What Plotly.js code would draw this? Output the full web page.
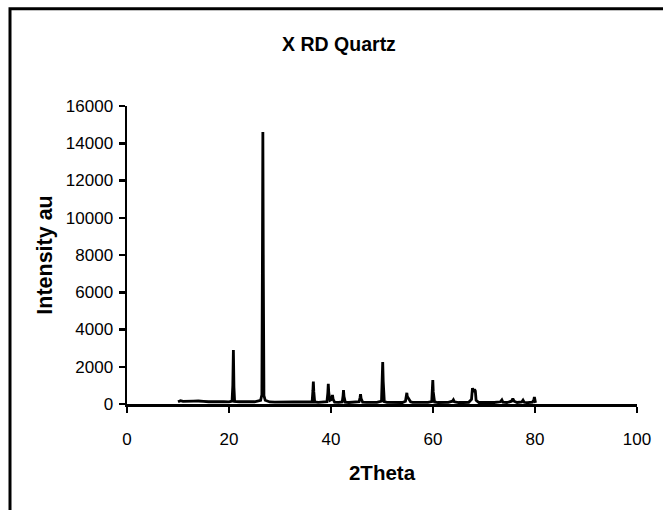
<!DOCTYPE html>
<html>
<head>
<meta charset="utf-8">
<script src="https://cdn.plot.ly/plotly-3.0.1.min.js"></script>
<style>
html,body{margin:0;padding:0;background:#fff;}
#chart{width:663px;height:510px;}
</style>
</head>
<body>
<div id="chart"></div>
<script>
const chartTitle = "X RD Quartz";
const xTitle = "2Theta";
const yTitle = "Intensity au";
const xTicks = [0, 20, 40, 60, 80, 100];
const yTicks = [0, 2000, 4000, 6000, 8000, 10000, 12000, 14000, 16000];

const twoTheta = [
  10.0, 10.5, 11.0, 12.0, 13.0, 14.0, 14.5, 15.0, 16.0, 17.0, 18.0, 19.0, 20.0,
  20.6, 20.75, 20.86, 20.97, 21.1, 22.0, 23.0, 24.0, 25.0,
  26.2, 26.45, 26.55, 26.64, 26.73, 26.85, 27.1, 28.0, 29.0, 30.0, 31.0, 32.0, 33.0, 34.0, 35.0,
  36.3, 36.45, 36.54, 36.63, 36.8, 37.5, 38.0,
  39.2, 39.38, 39.47, 39.56, 39.8, 40.15, 40.29, 40.42, 40.7, 41.5,
  42.2, 42.37, 42.45, 42.55, 42.8, 43.5, 44.5,
  45.5, 45.7, 45.79, 45.9, 46.2, 47.0, 48.0, 49.0,
  49.9, 50.05, 50.14, 50.24, 50.45, 51.0, 52.0, 53.0, 54.0,
  54.6, 54.78, 54.87, 54.96, 55.3, 55.6, 56.0, 57.0, 58.0, 59.0,
  59.75, 59.88, 59.96, 60.05, 60.3, 61.0, 62.0, 63.0,
  63.8, 64.0, 64.2, 65.0, 66.0, 67.0,
  67.55, 67.74, 67.9, 68.14, 68.3, 68.45, 69.0, 70.0, 71.0, 72.0,
  73.2, 73.5, 73.7, 74.5, 75.4, 75.65, 75.9, 76.5, 77.4, 77.65, 77.9, 78.5,
  79.5, 79.8, 79.88, 80.0, 80.1
];
const intensity = [
  120, 180, 140, 130, 150, 160, 130, 140, 120, 130, 110, 120, 110,
  150, 1000, 2900, 900, 140, 120, 110, 110, 120,
  200, 500, 7500, 14600, 7000, 450, 200, 110, 100, 100, 90, 90, 100, 90, 90,
  120, 700, 1200, 650, 110, 90, 90,
  120, 600, 1080, 600, 200, 250, 480, 250, 100, 90,
  110, 450, 750, 400, 100, 80, 90,
  120, 350, 530, 300, 100, 90, 80, 90,
  150, 1300, 2250, 1200, 130, 90, 80, 90, 80,
  150, 450, 600, 400, 250, 120, 90, 80, 80, 90,
  130, 700, 1280, 650, 110, 80, 80, 90,
  150, 230, 120, 80, 80, 90,
  250, 850, 650, 780, 700, 200, 80, 70, 80, 80,
  120, 220, 100, 80, 150, 290, 150, 80, 110, 210, 90, 70,
  100, 250, 380, 150, 60
];

const FONT = "Liberation Sans, Arial, sans-serif";

const trace = {
  x: twoTheta,
  y: intensity,
  type: "scatter",
  mode: "lines",
  line: {color: "#000000", width: 2.8},
  hoverinfo: "x+y",
  showlegend: false
};

const px = (p) => (p - 127) / 510;
const py = (p) => (404 - p) / 296;

const layout = {
  width: 663,
  height: 510,
  margin: {l: 127, r: 26, t: 106, b: 106},
  paper_bgcolor: "#ffffff",
  plot_bgcolor: "#ffffff",
  font: {family: FONT, size: 17, color: "#000000"},
  title: {
    text: "<b>" + chartTitle + "</b>",
    font: {family: FONT, size: 19.5, color: "#000"},
    xref: "container", yref: "container",
    x: 339 / 663, y: 1 - 44 / 510,
    xanchor: "center", yanchor: "middle"
  },
  xaxis: {
    range: [0, 100],
    tickvals: xTicks,
    ticktext: xTicks.map(String),
    showgrid: false,
    zeroline: false,
    showline: true,
    linecolor: "#000",
    linewidth: 2.5,
    ticks: "outside",
    ticklen: 6,
    tickwidth: 2.5,
    tickcolor: "#000",
    ticklabelstandoff: 12,
    tickfont: {family: FONT, size: 17, color: "#000"},
    title: {
      text: "<b>" + xTitle + "</b>",
      font: {family: FONT, size: 20.5, color: "#000"},
      standoff: 18
    },
    fixedrange: true
  },
  yaxis: {
    range: [0, 16000],
    tickvals: yTicks,
    ticktext: yTicks.map(String),
    showgrid: false,
    zeroline: false,
    showline: true,
    linecolor: "#000",
    linewidth: 2.5,
    ticks: "outside",
    ticklen: 6,
    tickwidth: 2.5,
    tickcolor: "#000",
    ticklabelstandoff: 2,
    tickfont: {family: FONT, size: 17, color: "#000"},
    title: {
      text: "<b>" + yTitle + "</b>",
      font: {family: FONT, size: 21.5, color: "#000"},
      standoff: 8
    },
    fixedrange: true
  },
  shapes: [{
    type: "rect",
    xref: "paper", yref: "paper",
    x0: px(10), x1: px(700),
    y0: py(560), y1: py(11.5),
    line: {color: "#000", width: 3},
    fillcolor: "rgba(0,0,0,0)",
    layer: "below"
  }]
};

Plotly.newPlot("chart", [trace], layout, {displayModeBar: false, staticPlot: true});
</script>
</body>
</html>
